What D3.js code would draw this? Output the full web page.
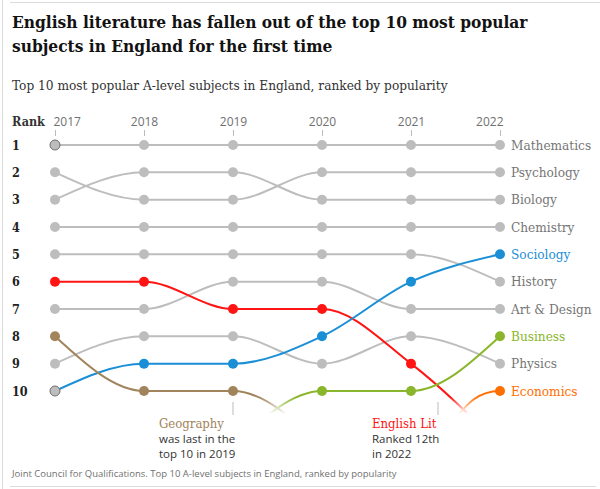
<!DOCTYPE html>
<html><head><meta charset="utf-8">
<script src="https://cdn.jsdelivr.net/npm/d3@7"></script>
<style>
body{margin:0;background:#fff;}
svg{display:block;}
</style></head>
<body>
<svg id="chart" width="600" height="489"></svg>
<script>
// ---- data ----
const years = [2017, 2018, 2019, 2020, 2021, 2022];
const rankTicks = [1, 2, 3, 4, 5, 6, 7, 8, 9, 10];
const subjects = ["Mathematics", "Psychology", "Biology", "Chemistry", "History", "Art & Design",
  "English Lit", "Physics", "Sociology", "Geography", "Business", "Economics"];
// ranks per year (null = not shown; 12 = outside the top 10, line fades out)
const mathematics = [1, 1, 1, 1, 1, 1];
const psychology  = [2, 3, 3, 2, 2, 2];
const biology     = [3, 2, 2, 3, 3, 3];
const chemistry   = [4, 4, 4, 4, 4, 4];
const history     = [5, 5, 5, 5, 5, 6];
const artDesign   = [7, 7, 6, 6, 7, 7];
const englishLit  = [6, 6, 7, 7, 9, 12];
const physics     = [9, 8, 8, 9, 8, 9];
const sociology   = [10, 9, 9, 8, 6, 5];
const geography   = [8, 10, 10, 12, null, null];
const business    = [null, null, 12, 10, 10, 8];
const economics   = [null, null, null, null, 12, 10];
const rankSeries = [mathematics, psychology, biology, chemistry, history, artDesign,
  englishLit, physics, sociology, geography, business, economics];
const seriesColors = ["#bdbdbd", "#bdbdbd", "#bdbdbd", "#bdbdbd", "#bdbdbd", "#bdbdbd",
  "#ff1414", "#bdbdbd", "#1b8fd6", "#a1845c", "#8ab62c", "#ff6e00"];
const labelColors = ["#767676", "#767676", "#767676", "#767676", "#767676", "#767676",
  null, "#767676", "#1b8fd6", null, "#8ab62c", "#ff6e00"];
const outlinedDots = [[0, 0], [8, 0]]; // [series index, year index]

const title = ["English literature has fallen out of the top 10 most popular",
  "subjects in England for the first time"];
const subtitle = "Top 10 most popular A-level subjects in England, ranked by popularity";
const source = "Joint Council for Qualifications. Top 10 A-level subjects in England, ranked by popularity";
const annGeo = ["Geography", "was last in the", "top 10 in 2019"];
const annEng = ["English Lit", "Ranked 12th", "in 2022"];

// ---- drawing ----
const serif = "'DejaVu Serif Condensed','DejaVu Serif',serif";
const sans = "'Open Sans','Noto Sans',sans-serif";
const svg = d3.select("#chart");

const x = d3.scalePoint().domain(years).range([55, 500]);
const y = d3.scaleLinear().domain([1, 10]).range([145, 391]);

// frame lines
svg.append("line").attr("x1", 2.5).attr("x2", 2.5).attr("y1", 0).attr("y2", 489).attr("stroke", "#dcdcdc");
svg.append("line").attr("x1", 10).attr("x2", 600).attr("y1", 2.5).attr("y2", 2.5).attr("stroke", "#dcdcdc");
svg.append("line").attr("x1", 10).attr("x2", 596).attr("y1", 486.5).attr("y2", 486.5).attr("stroke", "#dcdcdc");

function fit(sel, target) {
  const w = sel.node().getComputedTextLength();
  const fs = parseFloat(sel.attr("font-size"));
  sel.attr("font-size", fs * target / w);
}

const t1 = svg.append("text").attr("x", 12).attr("y", 28).attr("font-family", serif)
  .attr("font-weight", "bold").attr("font-size", 20).attr("fill", "#121212").text(title[0]);
fit(t1, 516);
svg.append("text").attr("x", 12).attr("y", 52).attr("font-family", serif)
  .attr("font-weight", "bold").attr("font-size", t1.attr("font-size")).attr("fill", "#121212").text(title[1]);

const st = svg.append("text").attr("x", 12).attr("y", 90).attr("font-family", serif)
  .attr("font-size", 13).attr("fill", "#333").text(subtitle);
fit(st, 436);

// Rank header and numbers
svg.append("text").attr("x", 12).attr("y", 126).attr("font-family", serif).attr("font-weight", "bold")
  .attr("font-size", 12.5).attr("fill", "#333").text("Rank");
svg.append("g").selectAll("text").data(rankTicks).join("text")
  .attr("x", 12).attr("y", d => y(d) + 4.5).attr("font-family", serif).attr("font-weight", "bold")
  .attr("font-size", 12.5).attr("fill", "#222").text(d => d);

// year axis
const xAxis = d3.axisTop(x).tickSize(6).tickPadding(4).tickFormat(d3.format("d"));
const ax = svg.append("g").attr("transform", "translate(0,136)").call(xAxis);
ax.select(".domain").remove();
ax.selectAll(".tick line").attr("stroke", "#bbb").attr("stroke-width", 1);
ax.selectAll(".tick text").attr("font-family", sans).attr("font-size", 12).attr("fill", "#707070")
  .attr("text-anchor", (d, i) => i === 0 ? "start" : (i === years.length - 1 ? "end" : "middle"))
  .attr("dx", (d, i) => i === 0 ? -2 : (i === years.length - 1 ? 3 : 0));

// fade mask for lines leaving the top 10
const defs = svg.append("defs");
const grad = defs.append("linearGradient").attr("id", "fade").attr("gradientUnits", "userSpaceOnUse")
  .attr("x1", 0).attr("x2", 0).attr("y1", 397).attr("y2", 414);
grad.append("stop").attr("offset", 0).attr("stop-color", "#fff");
grad.append("stop").attr("offset", 1).attr("stop-color", "#000");
defs.append("mask").attr("id", "m").attr("maskUnits", "userSpaceOnUse")
  .attr("x", 0).attr("y", 0).attr("width", 600).attr("height", 489)
  .append("rect").attr("width", 600).attr("height", 489).attr("fill", "url(#fade)");

const series = subjects.map((s, i) => ({
  name: s, i, color: seriesColors[i],
  pts: years.map((yr, j) => ({ year: yr, r: rankSeries[i][j], j }))
}));
function pathFor(s) {
  const n = s.pts.filter(p => p.r != null).length;
  const line = d3.line().defined(d => d.r != null).x(d => x(d.year)).y(d => y(d.r))
    .curve(n > 2 ? d3.curveMonotoneX : d3.curveBumpX);
  return line(s.pts);
}
const isGrey = s => s.color === "#bdbdbd";
const order = series.slice().sort((a, b) => (isGrey(a) ? 0 : 1) - (isGrey(b) ? 0 : 1));

const lg = svg.append("g").attr("mask", "url(#m)");
lg.selectAll("path").data(order).join("path")
  .attr("d", pathFor).attr("fill", "none").attr("stroke", d => d.color).attr("stroke-width", 2);

const dg = svg.append("g");
order.forEach(s => {
  const outlined = p => outlinedDots.some(o => o[0] === s.i && o[1] === p.j);
  dg.selectAll(null).data(s.pts.filter(p => p.r != null && p.r <= 10)).join("circle")
    .attr("cx", p => x(p.year)).attr("cy", p => y(p.r)).attr("r", 5)
    .attr("fill", p => outlined(p) ? "#bdbdbd" : s.color)
    .attr("stroke", p => outlined(p) ? "#6e6e6e" : "none")
    .attr("stroke-width", 1);
});

// right labels
const last = years.length - 1;
svg.append("g").selectAll("text").data(series.filter(s => labelColors[s.i] && rankSeries[s.i][last] <= 10))
  .join("text").attr("x", x(years[last]) + 11).attr("y", s => y(rankSeries[s.i][last]) + 4.5)
  .attr("font-family", serif).attr("font-size", 13.5).attr("fill", s => labelColors[s.i]).text(s => s.name);

// annotations
function annotate(lines, tx, tickX, color) {
  svg.append("line").attr("x1", tickX).attr("x2", tickX).attr("y1", 402).attr("y2", 415)
    .attr("stroke", "#bbb").attr("stroke-width", 1);
  svg.append("text").attr("x", tx).attr("y", 428).attr("font-family", serif).attr("font-size", 13)
    .attr("fill", color).text(lines[0]);
  svg.append("text").attr("x", tx).attr("y", 443).attr("font-family", sans).attr("font-size", 11.5)
    .attr("fill", "#333").text(lines[1]);
  svg.append("text").attr("x", tx).attr("y", 458).attr("font-family", sans).attr("font-size", 11.5)
    .attr("fill", "#333").text(lines[2]);
}
annotate(annGeo, 159, x(2019), "#a1845c");
annotate(annEng, 372, 438, "#ff1414");

const ft = svg.append("text").attr("x", 12).attr("y", 477).attr("font-family", sans)
  .attr("font-size", 11).attr("fill", "#707070").text(source);
fit(ft, 385);
</script>
</body></html>
